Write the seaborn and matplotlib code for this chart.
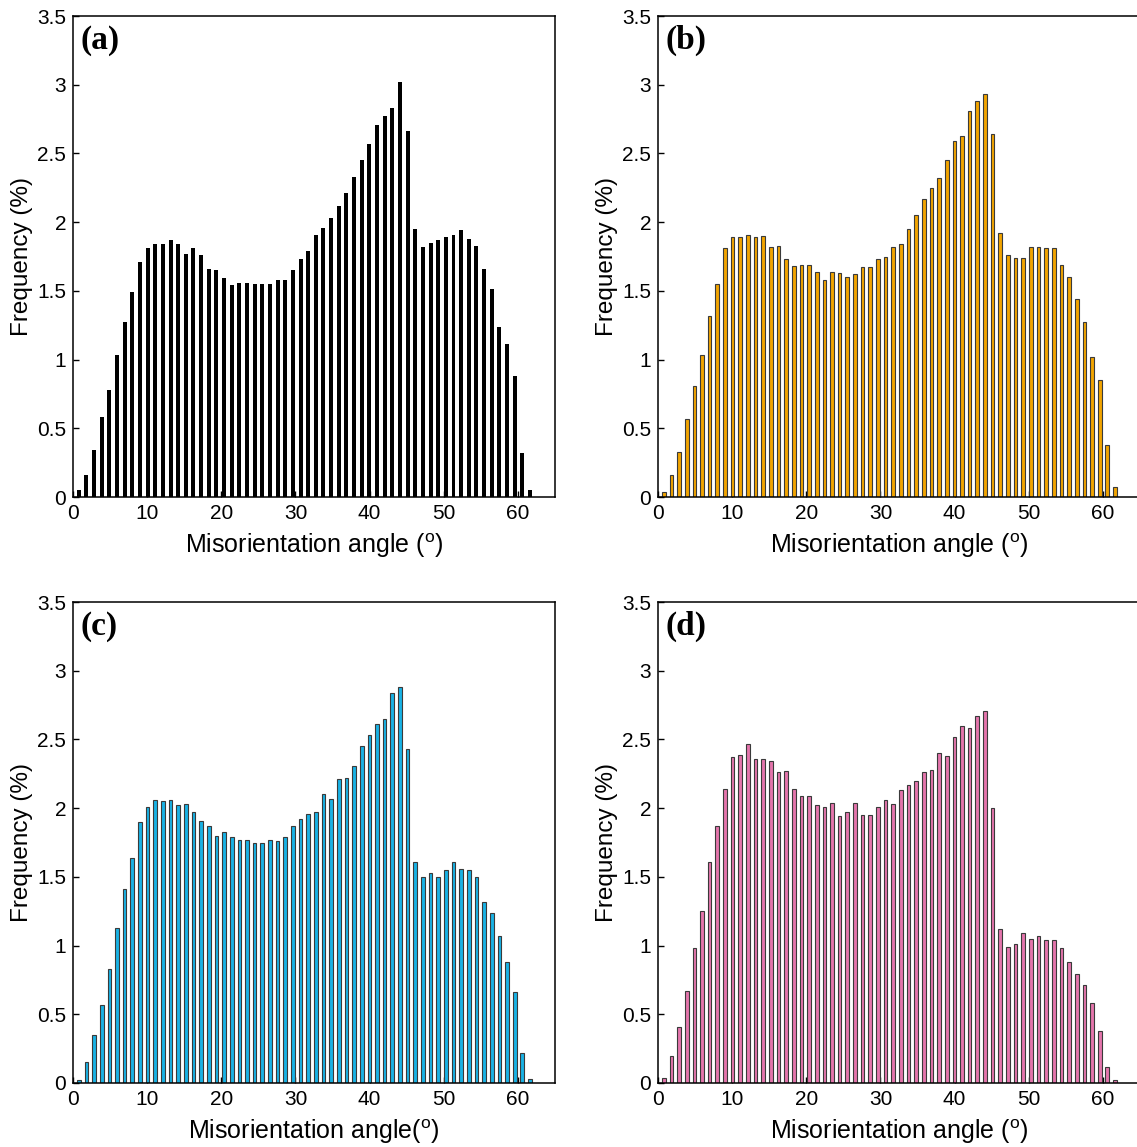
import numpy as np
import pandas as pd
import matplotlib
matplotlib.use("Agg")
import matplotlib.pyplot as plt
import seaborn as sns

# Misorientation-angle histogram: 60 equal bins spanning the measured range
bin_edges = np.linspace(0.26, 62.14, 61)
angle_centres = (bin_edges[:-1] + bin_edges[1:]) / 2

freq_a = [0.05, 0.16, 0.34, 0.58, 0.78, 1.03, 1.27, 1.49, 1.71, 1.81,
          1.84, 1.84, 1.87, 1.84, 1.77, 1.81, 1.76, 1.66, 1.65, 1.59,
          1.54, 1.56, 1.56, 1.55, 1.55, 1.55, 1.58, 1.58, 1.65, 1.73,
          1.79, 1.91, 1.96, 2.03, 2.12, 2.21, 2.33, 2.45, 2.57, 2.71,
          2.77, 2.83, 3.02, 2.66, 1.95, 1.82, 1.85, 1.87, 1.89, 1.91,
          1.94, 1.88, 1.83, 1.66, 1.51, 1.24, 1.11, 0.88, 0.32, 0.05]

freq_b = [0.04, 0.16, 0.33, 0.57, 0.81, 1.03, 1.32, 1.55, 1.81, 1.89,
          1.89, 1.91, 1.89, 1.90, 1.82, 1.83, 1.73, 1.68, 1.69, 1.69,
          1.64, 1.58, 1.64, 1.63, 1.60, 1.62, 1.67, 1.67, 1.73, 1.75,
          1.82, 1.84, 1.95, 2.05, 2.17, 2.25, 2.32, 2.45, 2.59, 2.63,
          2.81, 2.88, 2.93, 2.64, 1.92, 1.76, 1.74, 1.74, 1.82, 1.82,
          1.81, 1.81, 1.69, 1.60, 1.44, 1.27, 1.02, 0.85, 0.38, 0.07]

freq_c = [0.02, 0.15, 0.35, 0.57, 0.83, 1.13, 1.41, 1.64, 1.90, 2.01,
          2.06, 2.05, 2.06, 2.02, 2.03, 1.97, 1.91, 1.87, 1.80, 1.83,
          1.79, 1.77, 1.77, 1.75, 1.75, 1.77, 1.76, 1.79, 1.87, 1.92,
          1.96, 1.97, 2.10, 2.07, 2.21, 2.22, 2.31, 2.45, 2.53, 2.61,
          2.65, 2.84, 2.88, 2.43, 1.61, 1.50, 1.53, 1.50, 1.55, 1.61,
          1.56, 1.55, 1.50, 1.32, 1.24, 1.07, 0.88, 0.66, 0.22, 0.03]

freq_d = [0.04, 0.20, 0.41, 0.67, 0.98, 1.25, 1.61, 1.87, 2.14, 2.37,
          2.39, 2.47, 2.36, 2.36, 2.34, 2.26, 2.27, 2.14, 2.09, 2.09,
          2.02, 2.01, 2.04, 1.94, 1.97, 2.04, 1.95, 1.95, 2.01, 2.06,
          2.03, 2.13, 2.17, 2.20, 2.26, 2.28, 2.40, 2.38, 2.52, 2.60,
          2.58, 2.67, 2.71, 2.00, 1.12, 0.99, 1.01, 1.09, 1.05, 1.07,
          1.04, 1.04, 0.98, 0.88, 0.79, 0.71, 0.58, 0.38, 0.12, 0.02]

panel_tags = ["(a)", "(b)", "(c)", "(d)"]
bar_colors = ["#000000", "#F2A400", "#19B2E5", "#E475AC"]
edge_colors = ["#000000", "#3a3a3a", "#3a3a3a", "#3a3a3a"]
edge_widths = [0.0, 0.8, 0.8, 0.8]
x_labels = ["Misorientation angle ($^{\\mathrm{o}}$)",
            "Misorientation angle ($^{\\mathrm{o}}$)",
            "Misorientation angle($^{\\mathrm{o}}$)",
            "Misorientation angle ($^{\\mathrm{o}}$)"]
y_ticks = [0, 0.5, 1, 1.5, 2, 2.5, 3, 3.5]
y_tick_labels = ["0", "0.5", "1", "1.5", "2", "2.5", "3", "3.5"]
x_ticks = [0, 10, 20, 30, 40, 50, 60]

sns.set_style("ticks")
plt.rcParams["font.family"] = ["Liberation Sans", "DejaVu Sans"]
plt.rcParams["mathtext.fontset"] = "custom"
plt.rcParams["mathtext.rm"] = "Liberation Sans"
plt.rcParams["mathtext.it"] = "Liberation Sans"
plt.rcParams["axes.linewidth"] = 1.1
for key in ["text.color", "axes.labelcolor", "xtick.color", "ytick.color",
            "xtick.labelcolor", "ytick.labelcolor", "axes.edgecolor"]:
    plt.rcParams[key] = "black"

W, H = 1137, 1147
fig = plt.figure(figsize=(W / 100, H / 100), dpi=100)
fig.patch.set_facecolor("white")

# axes boxes in pixels: (left, top, right, bottom)
boxes = [(73, 16, 555, 497), (658, 16, 1140, 497),
         (73, 602, 555, 1083), (658, 602, 1140, 1083)]

series = [freq_a, freq_b, freq_c, freq_d]
for i, (vals, box) in enumerate(zip(series, boxes)):
    l, t, r, b = box
    ax = fig.add_axes([l / W, 1 - b / H, (r - l) / W, (b - t) / H])
    df = pd.DataFrame({"angle": angle_centres, "freq": vals})
    sns.barplot(data=df, x="angle", y="freq", native_scale=True,
                width=0.52 if i == 0 else 0.48,
                color=bar_colors[i], saturation=1, edgecolor=edge_colors[i],
                linewidth=edge_widths[i], errorbar=None, ax=ax)
    ax.set_xlim(0, 65)
    ax.set_ylim(0, 3.5)
    ax.set_xticks(x_ticks)
    ax.set_xticklabels([str(v) for v in x_ticks])
    ax.set_yticks(y_ticks)
    ax.set_yticklabels(y_tick_labels)
    ax.tick_params(direction="in", length=4, width=1, labelsize=15, pad=5,
                   colors="black")
    ax.set_xlabel(x_labels[i], fontsize=18, labelpad=6, color="black")
    ax.set_ylabel("Frequency (%)", fontsize=17.5, labelpad=3, color="black")
    for s in ax.spines.values():
        s.set_visible(True)
        s.set_linewidth(1.1)
        s.set_color("black")
    ax.text(0.016, 0.982, panel_tags[i], transform=ax.transAxes, ha="left",
            va="top", fontsize=24, fontweight="bold", color="black",
            family=["Liberation Serif", "DejaVu Serif"])

fig.savefig("out.png", dpi=100, facecolor="white")
